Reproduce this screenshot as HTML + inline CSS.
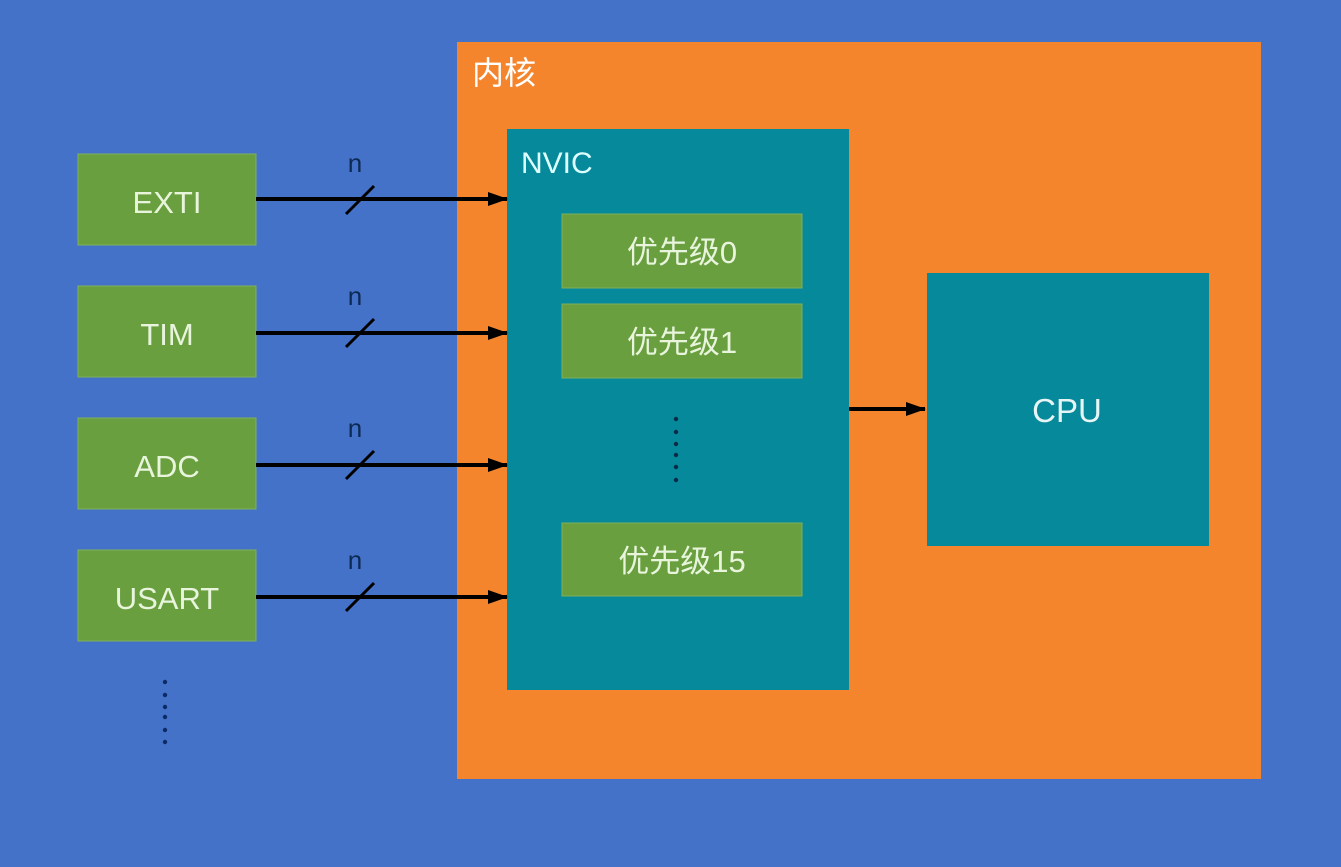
<!DOCTYPE html>
<html><head><meta charset="utf-8"><style>
html,body{margin:0;padding:0;background:#4472c8;}
svg{display:block}
text{font-family:"Liberation Sans","Noto Sans CJK SC",sans-serif;}
</style></head><body>
<svg width="1341" height="867" viewBox="0 0 1341 867" xmlns="http://www.w3.org/2000/svg">
<defs>
<marker id="b" markerWidth="20" markerHeight="16" refX="19" refY="8" orient="auto" markerUnits="userSpaceOnUse"><path d="M0,1 L20,8 L0,15 z" fill="#000"/></marker></defs>
<rect width="1341" height="867" fill="#4472c8"/>
<rect x="457" y="42" width="804" height="737" fill="#f5852d"/>
<text x="472" y="84" font-size="32" fill="#fff">内核</text>
<rect x="507" y="129" width="342" height="561" fill="#06899b"/>
<text x="521" y="173" font-size="30" fill="#dff">NVIC</text>
<g fill="#6a9f40" stroke="#7fb05a" stroke-width="1">
<rect x="562" y="214" width="240" height="74"/>
<rect x="562" y="304" width="240" height="74"/>
<rect x="562" y="523" width="240" height="73"/>
<rect x="78" y="154" width="178" height="91"/>
<rect x="78" y="286" width="178" height="91"/>
<rect x="78" y="418" width="178" height="91"/>
<rect x="78" y="550" width="178" height="91"/>
</g>
<g font-size="31" fill="#e8f5dc" text-anchor="middle">
<text x="682" y="263">优先级0</text>
<text x="682" y="353">优先级1</text>
<text x="682" y="572">优先级15</text>
<text x="167" y="213">EXTI</text>
<text x="167" y="345">TIM</text>
<text x="167" y="477">ADC</text>
<text x="167" y="609">USART</text>
</g>
<rect x="927" y="273" width="282" height="273" fill="#06899b"/>
<text x="1067" y="422" font-size="33" fill="#e8f5f5" text-anchor="middle">CPU</text>
<g stroke="#000" stroke-width="4">
<line x1="256" y1="199" x2="507" y2="199" marker-end="url(#b)"/>
<line x1="256" y1="333" x2="507" y2="333" marker-end="url(#b)"/>
<line x1="256" y1="465" x2="507" y2="465" marker-end="url(#b)"/>
<line x1="256" y1="597" x2="507" y2="597" marker-end="url(#b)"/>
<line x1="849" y1="409" x2="925" y2="409" marker-end="url(#b)"/>
</g>
<g stroke="#000" stroke-width="3">
<line x1="346" y1="214" x2="374" y2="186"/>
<line x1="346" y1="347" x2="374" y2="319"/>
<line x1="346" y1="479" x2="374" y2="451"/>
<line x1="346" y1="611" x2="374" y2="583"/>
</g>
<g font-size="26" fill="#0d2a55" text-anchor="middle">
<text x="355" y="172">n</text>
<text x="355" y="305">n</text>
<text x="355" y="437">n</text>
<text x="355" y="569">n</text>
</g>
<g fill="#0b2a45">
<circle cx="676" cy="419" r="2.2"/><circle cx="676" cy="432" r="2.2"/><circle cx="676" cy="444" r="2.2"/><circle cx="676" cy="455" r="2.2"/><circle cx="676" cy="467" r="2.2"/><circle cx="676" cy="480" r="2.2"/>
</g>
<g fill="#0d2a66">
<circle cx="165" cy="682" r="2.2"/><circle cx="165" cy="695" r="2.2"/><circle cx="165" cy="707" r="2.2"/><circle cx="165" cy="717" r="2.2"/><circle cx="165" cy="730" r="2.2"/><circle cx="165" cy="742" r="2.2"/>
</g>
</svg>
</body></html>
